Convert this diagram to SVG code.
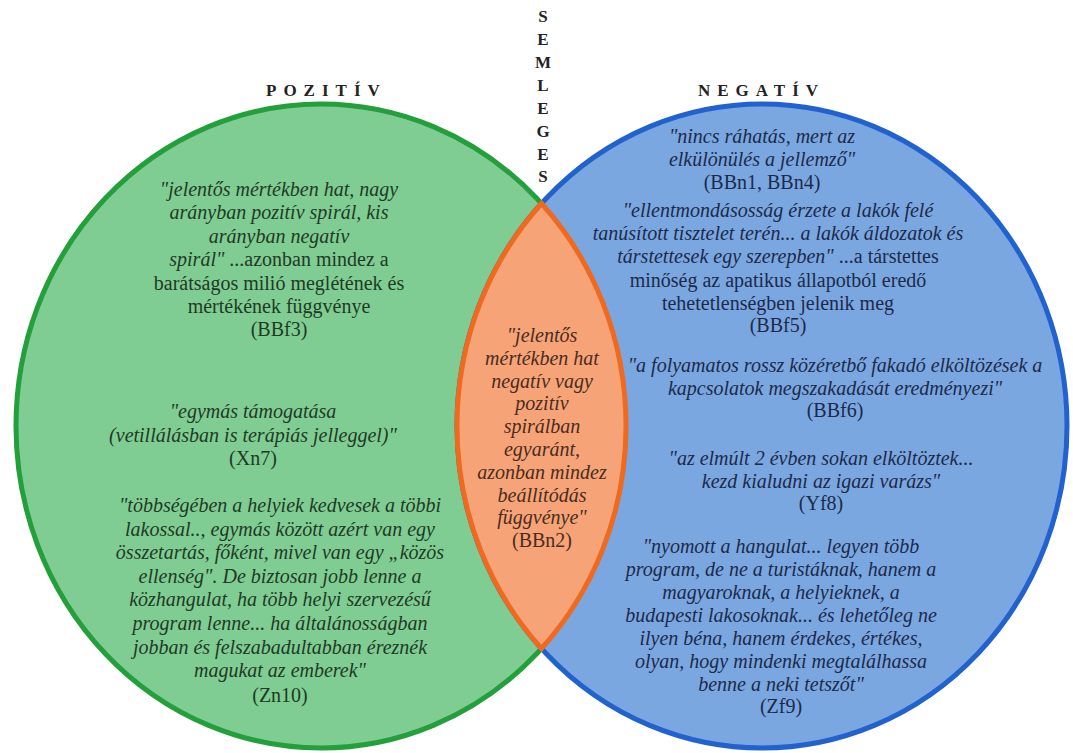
<svg xmlns="http://www.w3.org/2000/svg" width="1073" height="753" viewBox="0 0 1073 753">
  <style>
    text { font-family: "Liberation Serif", "Times New Roman", serif; font-size: 20px; text-anchor: middle; }
    .i { font-style: italic; }
    .r { font-style: normal; }
    .title { font-size: 17px; font-weight: bold; fill: #222; text-anchor: start; letter-spacing: 7px; }
    .sem { font-size: 17px; font-weight: bold; fill: #222; }
    .tg { fill: #1f3a25; }
    .tb { fill: #1b2a4a; }
    .to { fill: #4a2c20; }
  </style>
  <rect width="1073" height="753" fill="#ffffff"/>

  <g id="pozitiv">
    <ellipse cx="321" cy="426" rx="305" ry="322" fill="#7fcd93" stroke="#239f3b" stroke-width="5"/>
  </g>
  <g id="negativ">
    <ellipse cx="762" cy="426" rx="305" ry="322" fill="#7ba7e0" stroke="#2262cf" stroke-width="5"/>
  </g>
  <g id="semleges">
    <path d="M541.5,203.5 A305,322 0 0 1 541.5,648.5 A305,322 0 0 1 541.5,203.5 Z" fill="#f6a477" stroke="#ef6a1f" stroke-width="5"/>
  </g>
  <g id="connectors"/>

  <g id="labels">
    <text class="title" x="266" y="96">POZITÍV</text>
    <text class="title" x="698" y="96">NEGATÍV</text>
    <g class="sem">
      <text class="sem" x="543" y="22">S</text>
      <text class="sem" x="543" y="45">E</text>
      <text class="sem" x="543" y="68">M</text>
      <text class="sem" x="543" y="91">L</text>
      <text class="sem" x="543" y="114">E</text>
      <text class="sem" x="543" y="137">G</text>
      <text class="sem" x="543" y="160">E</text>
      <text class="sem" x="543" y="182">S</text>
    </g>
  </g>

  <g id="pozitiv-bbf3" class="tg">
    <text class="i tg" x="279" y="196">"jelentős mértékben hat, nagy</text>
    <text class="i tg" x="279" y="219.4">arányban pozitív spirál, kis</text>
    <text class="i tg" x="279" y="242.8">arányban negatív</text>
    <text class="tg" x="279" y="266.2"><tspan class="i">spirál"</tspan> ...azonban mindez a</text>
    <text class="tg" x="279" y="289.6">barátságos milió meglétének és</text>
    <text class="tg" x="279" y="313">mértékének függvénye</text>
    <text class="tg" x="279" y="336.4">(BBf3)</text>
  </g>

  <g id="pozitiv-xn7">
    <text class="i tg" x="253" y="418">"egymás támogatása</text>
    <text class="i tg" x="253" y="441.5">(vetillálásban is terápiás jelleggel)"</text>
    <text class="tg" x="253" y="465">(Xn7)</text>
  </g>

  <g id="pozitiv-zn10">
    <text class="i tg" x="280" y="512">"többségében a helyiek kedvesek a többi</text>
    <text class="i tg" x="280" y="535.6">lakossal.., egymás között azért van egy</text>
    <text class="i tg" x="280" y="559.2">összetartás, főként, mivel van egy „közös</text>
    <text class="i tg" x="280" y="582.8">ellenség". De biztosan jobb lenne a</text>
    <text class="i tg" x="280" y="606.4">közhangulat, ha több helyi szervezésű</text>
    <text class="i tg" x="280" y="630">program lenne... ha általánosságban</text>
    <text class="i tg" x="280" y="653.6">jobban és felszabadultabban éreznék</text>
    <text class="i tg" x="280" y="677.2">magukat az emberek"</text>
    <text class="tg" x="280" y="702">(Zn10)</text>
  </g>

  <g id="semleges-bbn2">
    <text class="i to" x="542" y="342">"jelentős</text>
    <text class="i to" x="542" y="364.8">mértékben hat</text>
    <text class="i to" x="542" y="387.6">negatív vagy</text>
    <text class="i to" x="542" y="410.4">pozitív</text>
    <text class="i to" x="542" y="433.2">spirálban</text>
    <text class="i to" x="542" y="456">egyaránt,</text>
    <text class="i to" x="542" y="478.8">azonban mindez</text>
    <text class="i to" x="542" y="501.6">beállítódás</text>
    <text class="i to" x="542" y="524.4">függvénye"</text>
    <text class="to" x="542" y="547.2">(BBn2)</text>
  </g>

  <g id="negativ-bbn1">
    <text class="i tb" x="762" y="143">"nincs ráhatás, mert az</text>
    <text class="i tb" x="762" y="166">elkülönülés a jellemző"</text>
    <text class="tb" x="762" y="189">(BBn1, BBn4)</text>
  </g>

  <g id="negativ-bbf5">
    <text class="i tb" x="778" y="217">"ellentmondásosság érzete a lakók felé</text>
    <text class="i tb" x="778" y="240">tanúsított tisztelet terén... a lakók áldozatok és</text>
    <text class="tb" x="778" y="263"><tspan class="i">társtettesek egy szerepben"</tspan> ...a társtettes</text>
    <text class="tb" x="778" y="287">minőség az apatikus állapotból eredő</text>
    <text class="tb" x="778" y="310">tehetetlenségben jelenik meg</text>
    <text class="tb" x="778" y="332">(BBf5)</text>
  </g>

  <g id="negativ-bbf6">
    <text class="i tb" x="835" y="372">"a folyamatos rossz közéretbő fakadó elköltözések a</text>
    <text class="i tb" x="835" y="395">kapcsolatok megszakadását eredményezi"</text>
    <text class="tb" x="835" y="417">(BBf6)</text>
  </g>

  <g id="negativ-yf8">
    <text class="i tb" x="821" y="465">"az elmúlt 2 évben sokan elköltöztek...</text>
    <text class="i tb" x="821" y="488">kezd kialudni az igazi varázs"</text>
    <text class="tb" x="821" y="510">(Yf8)</text>
  </g>

  <g id="negativ-zf9">
    <text class="i tb" x="781" y="553">"nyomott a hangulat... legyen több</text>
    <text class="i tb" x="781" y="576">program, de ne a turistáknak, hanem a</text>
    <text class="i tb" x="781" y="599">magyaroknak, a helyieknek, a</text>
    <text class="i tb" x="781" y="622">budapesti lakosoknak... és lehetőleg ne</text>
    <text class="i tb" x="781" y="645">ilyen béna, hanem érdekes, értékes,</text>
    <text class="i tb" x="781" y="668">olyan, hogy mindenki megtalálhassa</text>
    <text class="i tb" x="781" y="691">benne a neki tetszőt"</text>
    <text class="tb" x="781" y="713">(Zf9)</text>
  </g>
</svg>
